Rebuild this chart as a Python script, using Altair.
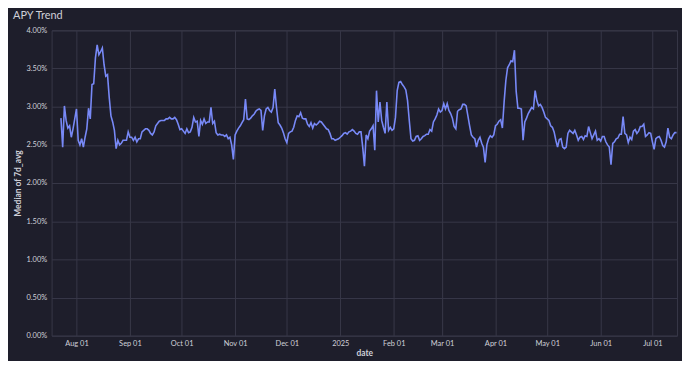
import altair as alt
import pandas as pd

start_date = "2024-07-23"

# Median of 7d_avg, in percent, one value per day from 2024-07-23
apy_pct = [
    # Jul 23 - Jul 31
    2.85, 2.47, 3.01, 2.82, 2.72, 2.75, 2.60, 2.71, 2.84,
    # Aug
    2.97, 2.56, 2.50, 2.58, 2.47, 2.60, 2.71, 2.98, 2.84, 3.29,
    3.30, 3.64, 3.81, 3.68, 3.72, 3.77, 3.55, 3.40, 3.42, 3.12,
    2.88, 2.80, 2.69, 2.45, 2.56, 2.50, 2.52, 2.56, 2.56, 2.56, 2.67,
    # Sep
    2.60, 2.60, 2.56, 2.60, 2.54, 2.58, 2.58, 2.67, 2.69, 2.71,
    2.71, 2.69, 2.65, 2.63, 2.67, 2.75, 2.78, 2.81, 2.82, 2.82,
    2.82, 2.84, 2.84, 2.86, 2.84, 2.84, 2.86, 2.83, 2.77, 2.70,
    # Oct
    2.71, 2.68, 2.65, 2.71, 2.66, 2.67, 2.73, 2.86, 2.80, 2.81,
    2.61, 2.82, 2.77, 2.84, 2.78, 2.80, 2.80, 2.99, 2.78, 2.81,
    2.66, 2.63, 2.64, 2.63, 2.63, 2.61, 2.63, 2.58, 2.60, 2.50, 2.31,
    # Nov
    2.63, 2.68, 2.72, 2.75, 2.79, 2.83, 3.10, 2.84, 2.83, 2.85,
    2.88, 2.90, 2.94, 2.96, 2.97, 2.95, 2.69, 2.88, 2.97, 2.99,
    2.95, 2.93, 2.99, 3.23, 2.99, 2.79, 2.76, 2.72, 2.66, 2.58,
    # Dec
    2.53, 2.65, 2.67, 2.68, 2.73, 2.82, 2.88, 2.87, 2.92, 2.85,
    2.84, 2.84, 2.77, 2.74, 2.79, 2.72, 2.78, 2.76, 2.78, 2.81,
    2.80, 2.77, 2.74, 2.71, 2.70, 2.65, 2.58, 2.58, 2.56, 2.57, 2.58,
    # Jan
    2.60, 2.62, 2.65, 2.66, 2.64, 2.67, 2.68, 2.70, 2.68, 2.65,
    2.64, 2.67, 2.67, 2.47, 2.22, 2.63, 2.58, 2.68, 2.71, 2.75,
    2.43, 3.21, 2.80, 3.06, 2.82, 2.73, 2.65, 3.06, 2.69, 2.73, 2.69,
    # Feb
    2.71, 2.86, 3.21, 3.32, 3.33, 3.29, 3.26, 3.22, 3.08, 2.82,
    2.58, 2.55, 2.56, 2.61, 2.62, 2.56, 2.58, 2.61, 2.62, 2.64,
    2.64, 2.70, 2.68, 2.80, 2.84, 2.89, 2.97, 2.93,
    # Mar
    2.95, 3.04, 2.97, 3.04, 2.95, 2.91, 2.85, 2.74, 2.71, 2.94,
    2.96, 2.97, 3.03, 3.03, 3.01, 2.88, 2.75, 2.63, 2.60, 2.58,
    2.47, 2.56, 2.60, 2.52, 2.47, 2.27, 2.50, 2.58, 2.62, 2.60, 2.63,
    # Apr
    2.75, 2.77, 2.81, 2.83, 2.72, 3.06, 3.34, 3.51, 3.55, 3.60,
    3.59, 3.74, 3.20, 2.98, 2.98, 2.97, 2.56, 2.80, 2.85, 2.91,
    2.95, 2.99, 2.97, 3.21, 3.08, 3.01, 3.03, 2.99, 2.93, 2.86,
    # May
    2.84, 2.82, 2.75, 2.73, 2.67, 2.56, 2.47, 2.57, 2.58, 2.47,
    2.45, 2.47, 2.65, 2.69, 2.67, 2.65, 2.69, 2.63, 2.56, 2.60,
    2.61, 2.57, 2.62, 2.61, 2.74, 2.66, 2.58, 2.63, 2.68, 2.56, 2.58,
    # Jun
    2.55, 2.61, 2.61, 2.54, 2.50, 2.47, 2.24, 2.52, 2.54, 2.58,
    2.59, 2.64, 2.64, 2.87, 2.65, 2.63, 2.53, 2.60, 2.57, 2.68,
    2.70, 2.65, 2.68, 2.74, 2.74, 2.77, 2.61, 2.63, 2.66, 2.65,
    # Jul 1 - Jul 15
    2.54, 2.44, 2.58, 2.60, 2.61, 2.56, 2.49, 2.47, 2.54, 2.72,
    2.60, 2.58, 2.63, 2.66, 2.66,
]

y_ticks = [0, 0.005, 0.01, 0.015, 0.02, 0.025, 0.03, 0.035, 0.04]

dates = pd.date_range(start_date, periods=len(apy_pct), freq="D").strftime("%Y-%m-%d")
df = pd.DataFrame({"date": dates, "apy": [v / 100 for v in apy_pct]})

BG = "#1e1e2b"
GRID = "#383848"
TEXT = "#cfd0d8"
FONT = "Lato"

x_domain = [
    alt.DateTime(year=2024, month=7, date=17, hours=14),
    alt.DateTime(year=2025, month=7, date=15, hours=7),
]

chart = (
    alt.Chart(df)
    .mark_line(color="#7889f7", strokeWidth=1.6)
    .encode(
        x=alt.X(
            "date:T",
            title="date",
            scale=alt.Scale(domain=x_domain),
            axis=alt.Axis(
                tickCount={"interval": "month", "step": 1},
                labelExpr="month(datum.value) == 0 ? timeFormat(datum.value, '%Y') : timeFormat(datum.value, '%b %d')",
                labelPadding=4,
                titlePadding=2,
            ),
        ),
        y=alt.Y(
            "apy:Q",
            title="Median of 7d_avg",
            scale=alt.Scale(domain=[0, 0.04]),
            axis=alt.Axis(values=y_ticks, format=".2%", labelPadding=5, titlePadding=4),
        ),
    )
    .properties(
        width=631,
        height=308,
        background=BG,
        padding={"left": 44, "top": 21, "right": 5, "bottom": 24},
        autosize=alt.AutoSizeParams(type="none"),
        title=alt.TitleParams(
            "APY Trend",
            anchor="start",
            color=TEXT,
            fontSize=11,
            fontWeight="normal",
            font=FONT,
            offset=5,
        ),
    )
    .configure_view(stroke=GRID, strokeWidth=1)
    .configure_axis(
        domain=False,
        ticks=False,
        grid=True,
        gridColor=GRID,
        gridWidth=1,
        labelColor=TEXT,
        labelFont=FONT,
        labelFontSize=7.5,
        titleColor=TEXT,
        titleFont=FONT,
        titleFontSize=8.5,
        titleFontWeight="bold",
    )
)

chart.save("out.html", embed_options={"renderer": "svg", "actions": False})
